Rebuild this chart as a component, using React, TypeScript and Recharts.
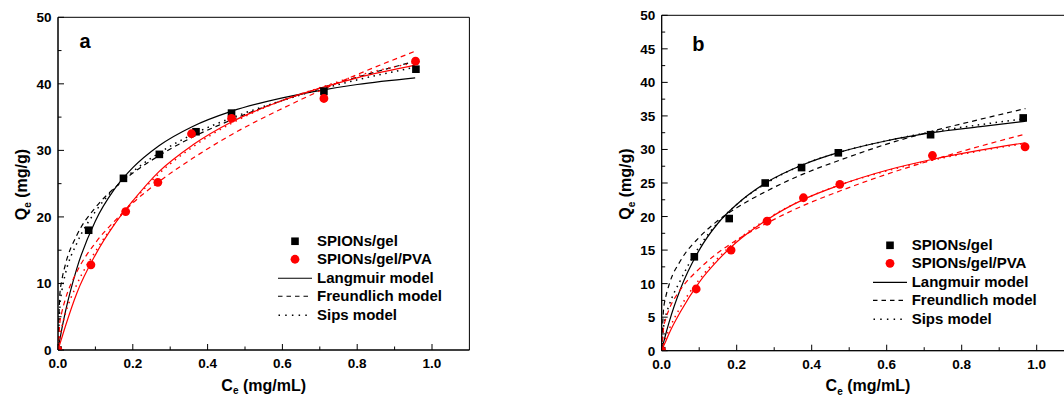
import React from "react";
import {
  ComposedChart, Line, Scatter, XAxis, YAxis, ReferenceArea, Legend, Label,
} from "recharts";

// ---------- panel a: measured points ----------
const aGelCe = [0, 0.082, 0.175, 0.271, 0.369, 0.464, 0.711, 0.957];
const aGelQe = [0, 18.0, 25.8, 29.4, 32.8, 35.6, 38.9, 42.2];
const aPvaCe = [0, 0.088, 0.181, 0.267, 0.357, 0.464, 0.711, 0.956];
const aPvaQe = [0, 12.8, 20.8, 25.2, 32.5, 34.8, 37.8, 43.4];

// ---------- panel a: fitted model curves ----------
const aFitCe = [0, 0.005, 0.01, 0.02, 0.05, 0.1, 0.15, 0.2, 0.27, 0.36, 0.465, 0.6, 0.71, 0.8, 0.955];
const aGelLangmuir = [0, 1.6, 3.1, 5.8, 12.2, 19.4, 24.1, 27.4, 30.7, 33.6, 35.9, 37.9, 39.1, 39.9, 40.9];
const aGelFreundlich = [0, 8.4, 10.4, 12.9, 17.2, 21.4, 24.3, 26.6, 29.2, 32.0, 34.6, 37.5, 39.5, 41.0, 43.4];
const aGelSips = [0, 6.5, 8.8, 11.5, 16.0, 20.8, 24.2, 26.8, 29.6, 32.4, 34.9, 37.5, 39.3, 40.6, 42.5];
const aPvaLangmuir = [0, 0.9, 1.8, 3.6, 8.5, 14.3, 18.8, 22.4, 26.8, 30.8, 34.3, 37.5, 39.5, 40.9, 42.8];
const aPvaFreundlich = [0, 4.1, 5.6, 7.7, 11.7, 16.1, 19.3, 22.1, 25.3, 28.8, 32.4, 36.3, 39.2, 41.4, 44.9];
const aPvaSips = [0, 2.0, 3.4, 5.5, 9.8, 14.8, 18.9, 22.3, 26.5, 30.5, 34.1, 37.5, 39.6, 41.2, 43.2];

// ---------- panel b: measured points ----------
const bGelCe = [0, 0.087, 0.18, 0.276, 0.373, 0.471, 0.717, 0.964];
const bGelQe = [0, 14.0, 19.7, 25.0, 27.3, 29.5, 32.2, 34.7];
const bPvaCe = [0, 0.092, 0.185, 0.281, 0.378, 0.475, 0.722, 0.969];
const bPvaQe = [0, 9.2, 15.0, 19.3, 22.8, 24.8, 29.1, 30.4];

// ---------- panel b: fitted model curves ----------
const bFitCe = [0, 0.005, 0.01, 0.02, 0.05, 0.1, 0.15, 0.2, 0.28, 0.38, 0.475, 0.6, 0.72, 0.85, 0.97];
const bGelLangmuir = [0, 1.2, 2.3, 4.3, 9.2, 15.0, 19.0, 21.8, 25.1, 27.8, 29.6, 31.3, 32.5, 33.4, 34.2];
const bGelFreundlich = [0, 6.2, 7.8, 9.9, 13.4, 16.9, 19.4, 21.3, 23.8, 26.4, 28.4, 30.8, 32.7, 34.5, 36.1];
const bGelSips = [0, 3.5, 5.0, 6.8, 10.5, 15.5, 19.1, 21.8, 25.0, 27.8, 29.6, 31.3, 32.6, 33.7, 34.6];
const bPvaLangmuir = [0, 0.7, 1.3, 2.6, 5.8, 10.2, 13.5, 16.2, 19.5, 22.6, 24.7, 26.9, 28.5, 29.9, 31.0];
const bPvaFreundlich = [0, 3.4, 4.6, 6.2, 9.1, 12.2, 14.6, 16.5, 19.0, 21.7, 23.8, 26.3, 28.4, 30.5, 32.3];
const bPvaSips = [0, 1.0, 1.8, 3.2, 6.5, 10.6, 13.8, 16.4, 19.6, 22.6, 24.7, 26.8, 28.4, 29.8, 30.9];

const xTicks = [0, 0.1, 0.2, 0.3, 0.4, 0.5, 0.6, 0.7, 0.8, 0.9, 1.0];
const aYTicks = [0, 5, 10, 15, 20, 25, 30, 35, 40, 45, 50];
const bYTicks = [0, 2.5, 5, 7.5, 10, 12.5, 15, 17.5, 20, 22.5, 25, 27.5, 30, 32.5, 35, 37.5, 40, 42.5, 45, 47.5, 50];

const legendRows = [
  { label: "SPIONs/gel", kind: "square" },
  { label: "SPIONs/gel/PVA", kind: "circle" },
  { label: "Langmuir model", kind: "solid" },
  { label: "Freundlich model", kind: "dashed" },
  { label: "Sips model", kind: "dotted" },
];

const FONT = "'Liberation Sans', Arial, Helvetica, sans-serif";
const RED = "#ff0000";

const zip = (xs: number[], ys: number[]) => xs.map((x, i) => ({ x, y: ys[i] }));

const SquareDot = (p: any) => (
  <rect x={p.cx - 3.8} y={p.cy - 3.8} width={7.6} height={7.6} fill="#000" />
);
const RoundDot = (p: any) => <circle cx={p.cx} cy={p.cy} r={4.4} fill={RED} />;

const XTick = ({ x, y, payload }: any) => {
  const v = payload.value;
  const major = Math.round(v * 10) % 2 === 0;
  return (
    <g>
      <line x1={x} x2={x} y1={y} y2={y - (major ? 6 : 3.5)} stroke="#000" strokeWidth={1} />
      {major && (
        <text x={x} y={y + 18} textAnchor="middle" fontFamily={FONT} fontWeight={700} fontSize={13.5} fill="#000">
          {v.toFixed(1)}
        </text>
      )}
    </g>
  );
};

const makeYTick = (step: number) => ({ x, y, payload }: any) => {
  const v = payload.value;
  const major = Math.abs(v / step - Math.round(v / step)) < 1e-6;
  return (
    <g>
      <line x1={x} x2={x + (major ? 6 : 3.5)} y1={y} y2={y} stroke="#000" strokeWidth={1} />
      {major && (
        <text x={x - 6.5} y={y + 5} textAnchor="end" fontFamily={FONT} fontWeight={700} fontSize={13.5} fill="#000">
          {v}
        </text>
      )}
    </g>
  );
};

const LegendBox = ({ rowH }: { rowH: number }) => (
  <div style={{ fontFamily: FONT, fontWeight: 700, fontSize: 15, color: "#000" }}>
    {legendRows.map((r) => (
      <div key={r.label} style={{ display: "flex", alignItems: "center", height: rowH, whiteSpace: "nowrap" }}>
        <svg width={39} height={rowH} style={{ flex: "none" }}>
          {r.kind === "square" && <rect x={13.2} y={rowH / 2 - 3.8} width={7.6} height={7.6} fill="#000" />}
          {r.kind === "circle" && <circle cx={17} cy={rowH / 2} r={4.4} fill={RED} />}
          {r.kind === "solid" && <line x1={0} x2={34} y1={rowH / 2} y2={rowH / 2} stroke="#000" strokeWidth={1.2} />}
          {r.kind === "dashed" && (
            <line x1={0} x2={34} y1={rowH / 2} y2={rowH / 2} stroke="#000" strokeWidth={1.2} strokeDasharray="4.5 4" />
          )}
          {r.kind === "dotted" && (
            <line x1={0.5} x2={34} y1={rowH / 2} y2={rowH / 2} stroke="#000" strokeWidth={1.4} strokeDasharray="1.5 5.2" />
          )}
        </svg>
        <span style={{ lineHeight: `${rowH}px` }}>{r.label}</span>
      </div>
    ))}
  </div>
);

type PanelProps = {
  tag: string;
  tagDx: number;
  tagDy: number;
  width: number;
  margin: { top: number; right: number; bottom: number; left: number };
  yTicks: number[];
  yStep: number;
  gel: { x: number; y: number }[];
  pva: { x: number; y: number }[];
  fitCe: number[];
  curves: number[][];
  legendPos: { left: number; top: number };
  rowH: number;
};

const Panel = (p: PanelProps) => {
  const [gL, gF, gS, rL, rF, rS] = p.curves;
  const line = (ys: number[], color: string, dash?: string, key?: string) => (
    <Line
      key={key}
      data={zip(p.fitCe, ys)}
      dataKey="y"
      type="monotone"
      stroke={color}
      strokeWidth={dash === "dot" ? 1.5 : 1.2}
      strokeDasharray={dash === "dash" ? "5 4" : dash === "dot" ? "1.5 4.5" : undefined}
      dot={false}
      activeDot={false}
      isAnimationActive={false}
    />
  );
  return (
    <ComposedChart width={p.width} height={398} margin={p.margin}>
      <XAxis
        dataKey="x"
        type="number"
        domain={[0, 1.1]}
        ticks={xTicks}
        interval={0}
        height={1}
        tickSize={0}
        tickMargin={0}
        tickLine={false}
        axisLine={{ stroke: "#000" }}
        tick={<XTick />}
        allowDataOverflow
      >
        <Label
          content={({ viewBox }: any) => (
            <text
              x={viewBox.x + viewBox.width / 2}
              y={viewBox.y + 40.5}
              textAnchor="middle"
              fontFamily={FONT}
              fontWeight={700}
              fontSize={16}
              fill="#000"
            >
              C<tspan fontSize={10} dy={3.5}>e</tspan>
              <tspan dy={-3.5}> (mg/mL)</tspan>
            </text>
          )}
        />
      </XAxis>
      <YAxis
        dataKey="y"
        type="number"
        domain={[0, 50]}
        ticks={p.yTicks}
        interval={0}
        width={1}
        tickSize={0}
        tickMargin={0}
        tickLine={false}
        axisLine={{ stroke: "#000" }}
        tick={makeYTick(p.yStep)}
        allowDataOverflow
      >
        <Label
          content={({ viewBox }: any) => {
            const cx = viewBox.x + viewBox.width - 31;
            const cy = viewBox.y + viewBox.height / 2 + 1;
            return (
              <text
                x={cx}
                y={cy}
                transform={`rotate(-90 ${cx} ${cy})`}
                textAnchor="middle"
                fontFamily={FONT}
                fontWeight={700}
                fontSize={16}
                fill="#000"
              >
                Q<tspan fontSize={10} dy={4}>e</tspan>
                <tspan dy={-4}> (mg/g)</tspan>
              </text>
            );
          }}
        />
      </YAxis>
      <ReferenceArea
        x1={0}
        x2={1.1}
        y1={0}
        y2={50}
        fill="none"
        stroke="#000"
        strokeWidth={1}
        ifOverflow="visible"
        label={
          <Label
            content={({ viewBox }: any) => (
              <text
                x={viewBox.x + p.tagDx}
                y={viewBox.y + p.tagDy}
                textAnchor="middle"
                fontFamily={FONT}
                fontWeight={700}
                fontSize={20}
                fill="#000"
              >
                {p.tag}
              </text>
            )}
          />
        }
      />
      {line(gL, "#000", undefined, "gL")}
      {line(gF, "#000", "dash", "gF")}
      {line(gS, "#000", "dot", "gS")}
      {line(rL, RED, undefined, "rL")}
      {line(rF, RED, "dash", "rF")}
      {line(rS, RED, "dot", "rS")}
      <Scatter data={p.gel} dataKey="y" shape={SquareDot} isAnimationActive={false} />
      <Scatter data={p.pva} dataKey="y" shape={RoundDot} isAnimationActive={false} />
      <Legend
        layout="vertical"
        align="center"
        verticalAlign="middle"
        wrapperStyle={{ left: p.legendPos.left, top: p.legendPos.top, width: "auto", height: "auto" }}
        content={() => <LegendBox rowH={p.rowH} />}
      />
    </ComposedChart>
  );
};

export default function App() {
  return (
    <div
      style={{
        position: "fixed",
        left: 0,
        top: 0,
        width: 1064,
        height: 398,
        overflow: "hidden",
        background: "#fff",
      }}
    >
      <div style={{ position: "absolute", left: 0, top: 0 }}>
        <Panel
          tag="a"
          tagDx={27}
          tagDy={31}
          width={500}
          margin={{ top: 17.3, right: 30.6, bottom: 47, left: 57 }}
          yTicks={aYTicks}
          yStep={10}
          gel={zip(aGelCe, aGelQe)}
          pva={zip(aPvaCe, aPvaQe)}
          fitCe={aFitCe}
          curves={[aGelLangmuir, aGelFreundlich, aGelSips, aPvaLangmuir, aPvaFreundlich, aPvaSips]}
          legendPos={{ left: 278, top: 231.8 }}
          rowH={18.5}
        />
      </div>
      <div style={{ position: "absolute", left: 600, top: 0 }}>
        <Panel
          tag="b"
          tagDx={36.6}
          tagDy={35.7}
          width={490}
          margin={{ top: 15.3, right: 15.8, bottom: 46.3, left: 60.7 }}
          yTicks={bYTicks}
          yStep={5}
          gel={zip(bGelCe, bGelQe)}
          pva={zip(bPvaCe, bPvaQe)}
          fitCe={bFitCe}
          curves={[bGelLangmuir, bGelFreundlich, bGelSips, bPvaLangmuir, bPvaFreundlich, bPvaSips]}
          legendPos={{ left: 272.7, top: 235.7 }}
          rowH={18.6}
        />
      </div>
    </div>
  );
}
